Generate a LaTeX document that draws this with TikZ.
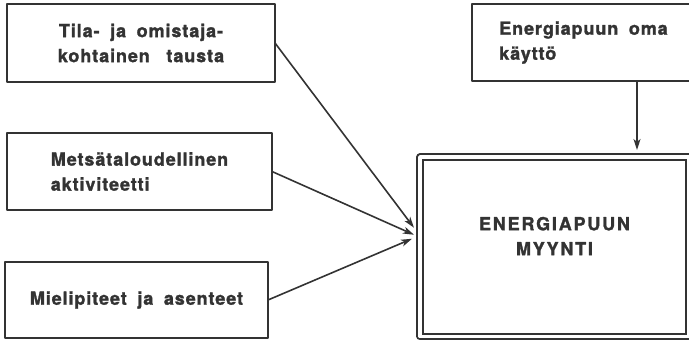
\documentclass[tikz,border=0pt]{standalone}
\usepackage{fontspec}
\newfontfamily\boxfont[LetterSpace=5,WordSpace=1.8,FakeBold=1.5]{texgyreheros-bold.otf}
\usetikzlibrary{arrows.meta}
\usetikzlibrary{positioning}
\definecolor{inkgray}{gray}{0.2}

\begin{document}
\begin{tikzpicture}[line cap=round,line join=round,>={Stealth[length=11pt,width=7pt,inset=3pt]},x=1pt,y=1pt,
  box/.style={draw=inkgray,line width=2.2pt,outer sep=0pt,inner sep=0pt,text=inkgray,font=\boxfont\fontsize{18}{25}\selectfont},
  arr/.style={->,draw=inkgray,line width=1.6pt}]
\useasboundingbox (0,0) rectangle (689,340);
\node[box,align=center,minimum width=268pt,minimum height=78pt] (tila) at (141,297) {Tila- ja omistaja-\\kohtainen\hspace{6pt} tausta};
\node[box,align=left,minimum width=265pt,minimum height=77pt] (metsa) at (139.5,168.5) {Metsätaloudellinen\\aktiviteetti};
\node[box,minimum width=263pt,minimum height=76pt] (mieli) at (136.5,40) {Mielipiteet ja asenteet};
\node[box,align=left,minimum width=223pt,minimum height=77pt] (oma) at (583.5,297.5) {Energiapuun oma\\käyttö};
\node[box,line width=1.8pt,double=white,double distance=3.6pt,minimum width=269pt,minimum height=179.5pt] (myynti) at (554.5,93.25)
  {\addfontfeature{LetterSpace=10}\raisebox{9pt}[\height][\depth]{\begin{tabular}{@{}c@{}}ENERGIAPUUN\\MYYNTI\end{tabular}}};
% nuolet myyntiin
\draw[arr] (tila.east) -- ([xshift=-6pt,yshift=19pt]myynti.west);
\draw[arr] (metsa.east) -- ([xshift=-6pt,yshift=12pt]myynti.west);
\draw[arr] (mieli.east) -- ([xshift=-8pt,yshift=8pt]myynti.west);
\draw[arr] ([xshift=53.5pt]oma.south) -- ([xshift=53.5pt,yshift=7pt]oma.south |- myynti.north);
\end{tikzpicture}
\end{document}
